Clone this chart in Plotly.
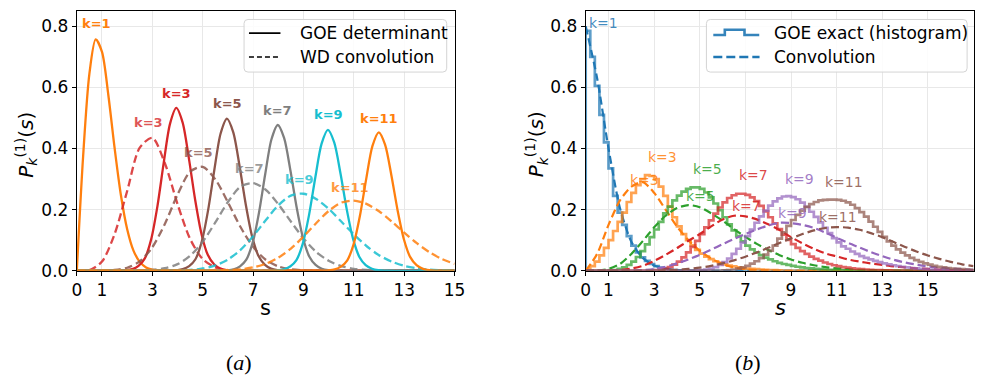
import numpy as np
import plotly.graph_objects as go

W, H = 985, 383

# ---------------- panel (a): GOE determinant (solid) and WD convolution (dashed) ----------------
K_A = [1, 3, 5, 7, 9, 11]
COLORS_A = ["#ff7f0e", "#d62728", "#8c564b", "#7f7f7f", "#17becf", "#ff7f0e"]

S_DET_K1 = [0, 0.25, 0.5, 0.75, 1.0, 1.25, 1.5, 1.75, 2.0, 2.25, 2.5, 2.75, 3.0, 3.25, 3.5, 15]
P_DET_K1 = [0, 0.374, 0.645, 0.757, 0.716, 0.576, 0.402, 0.248, 0.136, 0.066, 0.029, 0.011, 0.004, 0.001, 0, 0]

DET_STEP = 0.25
DET_START = [1.70, 3.71, 5.73, 7.72, 9.74]  # k = 3, 5, 7, 9, 11
P_DET_K3 = [.0005, .0016, .0053, .016, .0403, .1018, .2105, .3528, .4808, .533, .4856, .3678, .2313, .1205, .0522,
            .0213, .0075, .0021, .0005]
P_DET_K5 = [.0005, .0015, .005, .0149, .0376, .0951, .1967, .3297, .4492, .498, .4537, .3436, .2161, .1125, .0488,
            .0199, .007, .002, .0005]
P_DET_K7 = [.0005, .0014, .0048, .0143, .0361, .0911, .1884, .3158, .4303, .477, .4345, .3291, .207, .1078, .0467,
            .0191, .0067, .0019, .0005]
P_DET_K9 = [.0005, .0014, .0046, .0138, .0349, .0881, .1821, .3052, .4158, .461, .42, .3181, .2001, .1042, .0452,
            .0184, .0065, .0018, .0005]
P_DET_K11 = [.0005, .0014, .0045, .0136, .0342, .0865, .1789, .2999, .4086, .453, .4127, .3126, .1966, .1024, .0444,
             .0181, .0063, .0018, .0005]

WD_STEP = 0.5
WD_START = [0.0, 0.0, 2.0, 3.0, 5.0]  # k = 3, 5, 7, 9, 11
P_WD_K3 = [0, .002, .03, .12, .261, .403, .435, .351, .218, .104, .038, .011, .0023, .0004, 0]
P_WD_K5 = [0, 0, .0005, .0025, .0098, .031, .077, .154, .249, .324, .340, .299, .224, .143, .078, .036, .0143, .0048,
           .0014, .0004, 0]
P_WD_K7 = [.0002, .0007, .0026, .0082, .0216, .049, .095, .158, .225, .275, .287, .265, .218, .161, .106, .062, .0326,
           .0153, .0064, .0024, .0008, .0002, 0]
P_WD_K9 = [.0001, .0003, .0009, .0028, .0074, .0175, .0367, .0684, .113, .165, .214, .246, .252, .235, .203, .161, .119,
           .081, .051, .030, .016, .008, .0038, .0016, .0006]
P_WD_K11 = [.0002, .0007, .0019, .0048, .0109, .0227, .0427, .0725, .1116, .1553, .1955, .2228, .2297, .2188, .1945,
            .1613, .1249, .0902, .0608, .0382, .0224]

LABEL_DET_S = [0.79, 3.95, 5.98, 7.98, 10.0, 11.99]
LABEL_DET_P = [0.81, 0.58, 0.546, 0.525, 0.511, 0.498]
LABEL_WD_S = [2.84, 4.83, 6.85, 8.84, 10.85]
LABEL_WD_P = [0.484, 0.387, 0.334, 0.300, 0.274]

X_TICKS_A = [0, 1, 3, 5, 7, 9, 11, 13, 15]

# ---------------- panel (b): GOE exact histogram (step) and convolution (dashed) ----------------
K_B = [1, 3, 5, 7, 9, 11]
COLORS_B = ["#1f77b4", "#ff7f0e", "#2ca02c", "#d62728", "#9467bd", "#8c564b"]

BIN = 0.2
HIST_START = [0.0, 0.0, 1.0, 2.8, 4.8, 6.0]
HIST_K1 = [.785, .70, .605, .51, .42, .335, .245, .19, .15, .113, .082, .06, .044, .032, .022, .015, .01, .006, .004, .002, .001]
HIST_K3 = [.004, .015, .03, .05, .075, .10, .13, .16, .19, .225, .255, .28, .30, .313, .31, .30, .275, .245, .21, .175,
           .145, .12, .10, .083, .068, .056, .046, .038, .031, .026, .021, .017, .014, .011, .009, .007, .006, .005, .004,
           .003, .002, .002, .001]
HIST_K5 = [.001, .002, .006, .011, .019, .03, .045, .064, .086, .11, .135, .16, .188, .21, .23, .246, .259, .268, .273,
           .273, .268, .256, .24, .22, .198, .175, .152, .132, .113, .096, .082, .07, .06, .051, .043, .037, .031, .026,
           .022, .019, .016, .013, .011, .009, .008, .006, .005, .004, .003, .003, .002, .002, .001, .001]
HIST_K7 = [.001, .002, .004, .007, .012, .02, .03, .044, .06, .078, .098, .12, .142, .165, .187, .207, .224, .238, .247,
           .252, .252, .248, .24, .228, .212, .194, .175, .155, .136, .118, .101, .087, .075, .064, .055, .046, .039, .033,
           .027, .022, .018, .015, .012, .01, .008, .006, .005, .004, .003, .002, .002, .001, .001]
HIST_K9 = [.001, .002, .004, .007, .012, .019, .028, .04, .055, .072, .092, .113, .135, .157, .178, .197, .213, .227, .237,
           .243, .244, .241, .234, .223, .209, .193, .176, .158, .14, .123, .107, .093, .08, .072, .063, .055, .048, .042,
           .037, .032, .028, .024, .021, .018, .015, .013, .011, .009, .008, .006, .005, .004, .003, .003, .002, .002,
           .001, .001]
HIST_K11 = [.001, .002, .004, .007, .011, .016, .023, .031, .041, .053, .066, .082, .105, .126, .147, .166, .183, .197,
            .209, .218, .225, .23, .232, .233, .233, .232, .229, .224, .216, .205, .192, .177, .161, .144, .127, .111,
            .096, .082, .07, .059, .05, .042, .035, .029, .024, .02, .016, .013, .011, .009, .007, .006, .005, .004, .003]

CONV_STEP = 0.5  # grid 0 .. 17
CONV_K1 = [.80, .63, .40, .205, .095, .042, .017, .007, .002, .0005] + [0] * 25
CONV_K3 = [0, .055, .15, .23, .275, .29, .255, .2, .145, .10, .065, .04, .022, .011, .005, .002, .001] + [0] * 18
CONV_K5 = [0, .001, .006, .022, .055, .097, .142, .18, .205, .215, .208, .188, .164, .136, .111, .088, .068, .051, .037,
           .026, .018, .012, .008, .005, .003, .002, .001] + [0] * 8
CONV_K7 = [0, 0, 0, .002, .007, .016, .032, .052, .074, .098, .12, .145, .168, .18, .178, .168, .152, .133, .11, .09,
           .072, .057, .047, .037, .03, .024, .019, .014, .011, .008, .006, .004, .003, .002, .0015]
CONV_K9 = [0, 0, 0, 0, 0, .002, .006, .013, .024, .037, .052, .069, .087, .104, .12, .135, .148, .157, .156, .15, .14,
           .125, .108, .091, .076, .061, .048, .036, .027, .02, .014, .01, .007, .005, .003]
CONV_K11 = [0, 0, 0, 0, 0, 0, 0, .001, .003, .006, .01, .016, .024, .034, .046, .06, .075, .091, .106, .12, .132, .14,
            .143, .141, .134, .123, .11, .094, .078, .063, .05, .039, .029, .021, .015]

LABEL_HIST_S = [0.78, 3.37, 5.36, 7.37, 9.35, 11.34]
LABEL_HIST_P = [0.81, 0.372, 0.332, 0.313, 0.300, 0.289]
LABEL_CONV_S = [2.58, 5.03, 7.05, 9.07, 11.06]
LABEL_CONV_P = [0.297, 0.246, 0.212, 0.190, 0.177]

X_TICKS_B = [0, 1, 3, 5, 7, 9, 11, 13, 15]
Y_TICKS = [0.0, 0.2, 0.4, 0.6, 0.8]

FONT = "DejaVu Sans"


def rgba(hex_color, a):
    h = hex_color.lstrip("#")
    r, g, b = int(h[0:2], 16), int(h[2:4], 16), int(h[4:6], 16)
    return f"rgba({r},{g},{b},{a})"


fig = go.Figure()

# ---- panel (a) traces
det_vals = [P_DET_K3, P_DET_K5, P_DET_K7, P_DET_K9, P_DET_K11]
wd_vals = [P_WD_K3, P_WD_K5, P_WD_K7, P_WD_K9, P_WD_K11]

fig.add_trace(go.Scatter(x=S_DET_K1, y=P_DET_K1, mode="lines", xaxis="x", yaxis="y",
                         line=dict(color=COLORS_A[0], width=2.3, shape="spline", smoothing=0.8),
                         showlegend=False, hoverinfo="skip"))
for i in range(5):
    col = COLORS_A[i + 1]
    s_det = DET_START[i] + DET_STEP * np.arange(len(det_vals[i]))
    xs = [0.0] + list(s_det) + [15.0]
    ys = [0.0] + list(det_vals[i]) + [0.0]
    fig.add_trace(go.Scatter(x=xs, y=ys, mode="lines", xaxis="x", yaxis="y",
                             line=dict(color=col, width=2.3, shape="spline", smoothing=0.8),
                             showlegend=False, hoverinfo="skip"))
    s_wd = WD_START[i] + WD_STEP * np.arange(len(wd_vals[i]))
    xs = [0.0] + list(s_wd) + [15.0]
    ys = [0.0] + list(wd_vals[i]) + [wd_vals[i][-1] if s_wd[-1] >= 15 else 0.0]
    fig.add_trace(go.Scatter(x=xs, y=ys, mode="lines", xaxis="x", yaxis="y",
                             line=dict(color=rgba(col, 0.85), width=2.3, shape="spline", smoothing=0.8,
                                       dash="8px,4px"),
                             showlegend=False, hoverinfo="skip"))

# ---- panel (b) traces
hist_vals = [HIST_K1, HIST_K3, HIST_K5, HIST_K7, HIST_K9, HIST_K11]
conv_vals = [CONV_K1, CONV_K3, CONV_K5, CONV_K7, CONV_K9, CONV_K11]
s_conv = CONV_STEP * np.arange(len(CONV_K1))
for i in range(6):
    col = COLORS_B[i]
    v = hist_vals[i]
    edges = HIST_START[i] + BIN * np.arange(len(v) + 1)
    xs = [0.0] + list(edges) + [17.0]
    ys = [0.0] + list(v) + [0.0, 0.0]
    fig.add_trace(go.Scatter(x=xs, y=ys, mode="lines", xaxis="x2", yaxis="y2",
                             line=dict(color=rgba(col, 0.72), width=2.7, shape="hv"),
                             showlegend=False, hoverinfo="skip"))
    fig.add_trace(go.Scatter(x=s_conv, y=conv_vals[i], mode="lines", xaxis="x2", yaxis="y2",
                             line=dict(color=col, width=2.2, shape="spline", smoothing=0.7, dash="8px,4px"),
                             showlegend=False, hoverinfo="skip"))

# ---- labels
ann = []
for i in range(6):
    ann.append(dict(x=LABEL_DET_S[i], y=LABEL_DET_P[i], xref="x", yref="y", text=f"<b>k={K_A[i]}</b>",
                    showarrow=False, font=dict(family=FONT, size=13, color=COLORS_A[i]),
                    xanchor="center", yanchor="middle"))
for i in range(5):
    ann.append(dict(x=LABEL_WD_S[i], y=LABEL_WD_P[i], xref="x", yref="y", text=f"<b>k={K_A[i + 1]}</b>",
                    showarrow=False, font=dict(family=FONT, size=13, color=rgba(COLORS_A[i + 1], 0.8)),
                    xanchor="center", yanchor="middle"))
for i in range(6):
    ann.append(dict(x=LABEL_HIST_S[i], y=LABEL_HIST_P[i], xref="x2", yref="y2", text=f"k={K_B[i]}",
                    showarrow=False, font=dict(family=FONT, size=14, color=rgba(COLORS_B[i], 0.85)),
                    xanchor="center", yanchor="middle"))
for i in range(5):
    ann.append(dict(x=LABEL_CONV_S[i], y=LABEL_CONV_P[i], xref="x2", yref="y2", text=f"k={K_B[i + 1]}",
                    showarrow=False, font=dict(family=FONT, size=14, color=rgba(COLORS_B[i + 1], 0.85)),
                    xanchor="center", yanchor="middle"))


def P(x, y):
    return x / W, 1 - y / H


def text_at(x, y, text, size, xanchor="left", angle=0, family=FONT, color="black"):
    px, py = P(x, y)
    ann.append(dict(x=px, y=py, xref="paper", yref="paper", text=text, showarrow=False, textangle=angle,
                    font=dict(family=family, size=size, color=color), xanchor=xanchor, yanchor="middle"))


# axis titles
ytitle = "<i>P</i><sub><i>k</i></sub><sup>(1)</sup>(<i>s</i>)"
text_at(21, 149, ytitle, 20, xanchor="center", angle=-90)
text_at(540, 148, ytitle, 20, xanchor="center", angle=-90)
text_at(265, 316, "s", 21, xanchor="center")
text_at(788, 316, "<i>s</i>", 21, xanchor="center")
text_at(238, 372, "(<i>a</i>)", 22, xanchor="center", family="Liberation Serif")
text_at(755, 372, "(<i>b</i>)", 22, xanchor="center", family="Liberation Serif")

# ---- manual legends
shapes = []


def rounded_rect(x0, y0, x1, y1, r=4):
    def p(x, y):
        a, b = P(x, y)
        return f"{a:.5f},{b:.5f}"
    return (f"M {p(x0 + r, y0)} L {p(x1 - r, y0)} Q {p(x1, y0)} {p(x1, y0 + r)} "
            f"L {p(x1, y1 - r)} Q {p(x1, y1)} {p(x1 - r, y1)} L {p(x0 + r, y1)} "
            f"Q {p(x0, y1)} {p(x0, y1 - r)} L {p(x0, y0 + r)} Q {p(x0, y0)} {p(x0 + r, y0)} Z")


def seg(x0, y0, x1, y1, color, width, dash="solid"):
    a0, b0 = P(x0, y0)
    a1, b1 = P(x1, y1)
    shapes.append(dict(type="line", xref="paper", yref="paper", x0=a0, y0=b0, x1=a1, y1=b1,
                       line=dict(color=color, width=width, dash=dash), layer="above"))


# left legend
shapes.append(dict(type="path", xref="paper", yref="paper", path=rounded_rect(243, 20, 449, 74),
                   fillcolor="rgba(255,255,255,0.85)", line=dict(color="#d4d4d4", width=1), layer="above"))
seg(248, 34, 280, 34, "black", 1.6)
seg(248, 58.5, 280, 58.5, "black", 1.6, "5px,3px")
text_at(298, 34, "GOE determinant", 17)
text_at(298, 58.5, "WD convolution", 17)

# right legend
shapes.append(dict(type="path", xref="paper", yref="paper", path=rounded_rect(713, 20, 978, 74),
                   fillcolor="rgba(255,255,255,0.85)", line=dict(color="#d4d4d4", width=1), layer="above"))
step_pts = [(720, 36), (731.7, 36), (731.7, 30.5), (751.7, 30.5), (751.7, 36), (766.7, 36)]
path = "M " + " L ".join(f"{P(x, y)[0]:.5f},{P(x, y)[1]:.5f}" for x, y in step_pts)
shapes.append(dict(type="path", xref="paper", yref="paper", path=path,
                   line=dict(color=rgba(COLORS_B[0], 0.9), width=2.6), layer="above"))
seg(720, 58.5, 767, 58.5, COLORS_B[0], 2.4, "9px,4px")
text_at(780, 34, "GOE exact (histogram)", 17)
text_at(780, 58.5, "Convolution", 17)

axis_common = dict(showline=True, mirror=True, linecolor="black", linewidth=1, ticks="outside", ticklen=4,
                   tickwidth=1, tickcolor="black", showgrid=True, gridcolor="#e8e8e8", gridwidth=1,
                   zeroline=False, tickfont=dict(family=FONT, size=17, color="black"))

ydom = [1 - 278 / H, 1 - 11.3 / H]
fig.update_layout(
    width=W, height=H, autosize=False,
    margin=dict(l=0, r=0, t=0, b=0),
    paper_bgcolor="white", plot_bgcolor="white",
    showlegend=False,
    xaxis=dict(domain=[73 / W, 457 / W], range=[0, 15], tickvals=X_TICKS_A, anchor="y", **axis_common),
    yaxis=dict(domain=ydom, range=[0, 0.85], tickvals=Y_TICKS, tickformat=".1f", anchor="x", **axis_common),
    xaxis2=dict(domain=[590.3 / W, 984.5 / W], range=[0, 17], tickvals=X_TICKS_B, anchor="y2", **axis_common),
    yaxis2=dict(domain=ydom, range=[0, 0.85], tickvals=Y_TICKS, tickformat=".1f", anchor="x2", **axis_common),
    annotations=ann,
    shapes=shapes,
)

fig.write_html("out.html")
